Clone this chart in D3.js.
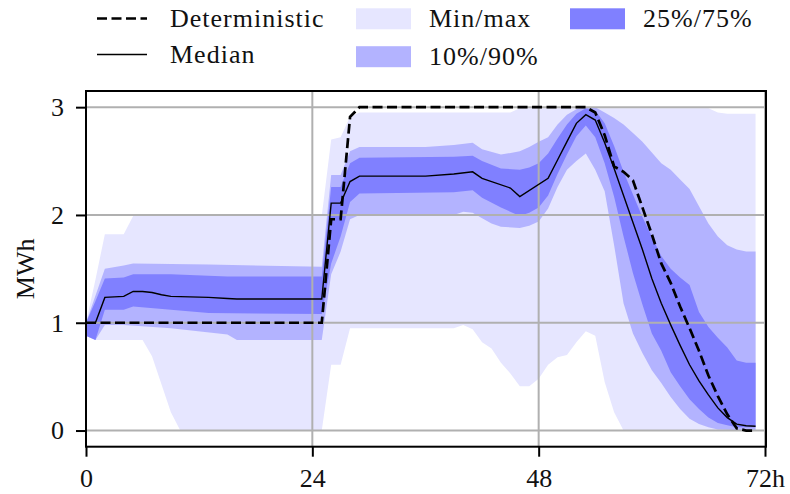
<!DOCTYPE html>
<html>
<head>
<meta charset="utf-8">
<script src="https://cdn.jsdelivr.net/npm/d3@7"></script>
<style>
  html, body { margin: 0; padding: 0; background: #fff; }
  svg text { font-family: "Liberation Serif", "DejaVu Serif", serif; fill: #111; }
</style>
</head>
<body>
<div id="chart"></div>
<script>
// ---- data (hour, MWh) ----
const xTicks = [0, 24, 48, 72];
const xTickLabels = ["0", "24", "48", "72h"];
const yTicks = [0, 1, 2, 3];

const deterministic = [
  [0, 1], [25, 1], [26, 1.96], [27, 1.96], [28, 2.91], [29, 3], [53, 3], [54, 2.95],
  [55, 2.74], [56, 2.45], [57, 2.40], [58, 2.32], [59, 2.07], [60, 1.82], [61, 1.55],
  [62, 1.37], [63, 1.15], [64, 0.95], [65, 0.74], [66, 0.51], [67, 0.32], [68, 0.15],
  [69, 0.02], [70, 0], [71, 0]
];

const median = [
  [0, 1], [1, 1], [2, 1.235], [4, 1.245], [5, 1.29], [6, 1.29], [7, 1.28], [8, 1.26],
  [9, 1.245], [13, 1.235], [15, 1.225], [16, 1.22], [25, 1.22], [26, 2.11], [27, 2.11],
  [28, 2.31], [29, 2.36], [36, 2.36], [39, 2.38], [41, 2.40], [42, 2.34], [45, 2.25],
  [46, 2.17], [49, 2.34], [50, 2.51], [51, 2.68], [52, 2.85], [53, 2.93], [54, 2.88],
  [55, 2.67], [56, 2.43], [57, 2.18], [58, 1.93], [59, 1.68], [60, 1.41], [61, 1.18],
  [62, 0.98], [63, 0.79], [64, 0.61], [65, 0.46], [66, 0.33], [67, 0.21], [68, 0.12],
  [69, 0.06], [70, 0.045], [71, 0.04]
];

const minMaxUpper = [
  [0, 1.0], [1, 1.40], [2, 1.82], [4, 1.82], [5, 1.99], [25, 1.99], [26, 2.70], [27, 2.72],
  [28, 2.91], [29, 2.95], [45, 2.95], [46, 2.99], [66, 2.99], [67, 2.95], [68, 2.94], [71, 2.94]
];
const minMaxLower = [
  [0, 0.88], [1, 0.84], [6, 0.84], [7, 0.69], [8, 0.43], [9, 0.17], [10, 0], [25, 0],
  [26, 0.61], [27, 0.61], [28, 0.95], [39, 0.95], [40, 0.98], [41, 0.94], [42, 0.82],
  [43, 0.76], [44, 0.63], [45, 0.53], [46, 0.41], [47, 0.41], [48, 0.48], [49, 0.61],
  [50, 0.68], [51, 0.70], [52, 0.82], [53, 0.92], [54, 0.88], [55, 0.45], [56, 0.17],
  [57, 0], [71, 0]
];

const p90 = [
  [0, 1.0], [1, 1.25], [2, 1.50], [4, 1.53], [5, 1.55], [13, 1.54], [25, 1.52], [26, 2.37],
  [27, 2.37], [28, 2.59], [29, 2.63], [36, 2.63], [39, 2.65], [41, 2.67], [42, 2.61],
  [44, 2.56], [46, 2.59], [47, 2.63], [48, 2.68], [49, 2.72], [50, 2.84], [51, 2.93],
  [52, 2.98], [53, 3.0], [54, 3.0], [55, 2.95], [56, 2.90], [57, 2.84], [58, 2.76],
  [59, 2.68], [60, 2.58], [61, 2.48], [62, 2.42], [63, 2.33], [64, 2.24], [65, 2.08],
  [66, 1.92], [67, 1.80], [68, 1.72], [69, 1.68], [70, 1.66], [71, 1.66]
];
const p10 = [
  [0, 0.88], [1, 0.84], [2, 0.98], [4, 0.98], [9, 0.95], [15, 0.89], [16, 0.84], [25, 0.84],
  [26, 1.45], [27, 1.66], [28, 1.96], [29, 2.0], [39, 2.0], [40, 2.03], [41, 2.02],
  [42, 1.97], [43, 1.92], [44, 1.89], [46, 1.88], [47, 1.90], [48, 1.94], [49, 2.06],
  [50, 2.26], [51, 2.42], [52, 2.50], [53, 2.57], [54, 2.42], [55, 2.22], [56, 1.72],
  [57, 1.18], [58, 0.90], [59, 0.72], [60, 0.56], [61, 0.44], [62, 0.31], [63, 0.20],
  [64, 0.11], [65, 0.06], [66, 0.03], [67, 0.01], [71, 0]
];

const p75 = [
  [0, 1.0], [1, 1.20], [2, 1.41], [4, 1.42], [5, 1.45], [9, 1.45], [15, 1.43], [25, 1.43],
  [26, 2.26], [27, 2.26], [28, 2.48], [29, 2.53], [39, 2.54], [41, 2.55], [42, 2.50],
  [44, 2.43], [46, 2.42], [47, 2.44], [48, 2.48], [49, 2.57], [50, 2.71], [51, 2.84],
  [52, 2.94], [53, 2.99], [54, 2.97], [55, 2.85], [56, 2.64], [57, 2.40], [58, 2.19],
  [59, 1.98], [60, 1.80], [61, 1.62], [62, 1.50], [63, 1.42], [64, 1.35], [65, 1.10],
  [66, 0.96], [67, 0.86], [68, 0.77], [69, 0.65], [70, 0.63], [71, 0.63]
];
const p25 = [
  [0, 0.88], [1, 0.84], [2, 1.12], [4, 1.12], [5, 1.15], [9, 1.12], [13, 1.09], [25, 1.08],
  [26, 1.55], [27, 1.80], [28, 2.12], [29, 2.20], [39, 2.21], [41, 2.23], [42, 2.16],
  [44, 2.07], [46, 1.99], [47, 2.02], [48, 2.07], [49, 2.18], [50, 2.38], [51, 2.56],
  [52, 2.73], [53, 2.83], [54, 2.72], [55, 2.48], [56, 2.17], [57, 1.80], [58, 1.46],
  [59, 1.17], [60, 0.90], [61, 0.74], [62, 0.54], [63, 0.41], [64, 0.29], [65, 0.20],
  [66, 0.12], [67, 0.07], [68, 0.05], [69, 0.03], [71, 0.03]
];

const bands = [
  { name: "Min/max", upper: minMaxUpper, lower: minMaxLower, color: "#e6e6ff" },
  { name: "10%/90%", upper: p90, lower: p10, color: "#b3b3ff" },
  { name: "25%/75%", upper: p75, lower: p25, color: "#8080ff" }
];

// ---- layout ----
const W = 790, H = 494;
const plot = { left: 86, right: 765, top: 91, bottom: 446.7 };
const fontSize = 26;

const svg = d3.select("#chart").append("svg")
  .attr("width", W)
  .attr("height", H);

const x = d3.scaleLinear().domain([0, 72]).range([plot.left, plot.right]);
const y = d3.scaleLinear().domain([-0.15, 3.15]).range([plot.bottom, plot.top]);

const line = d3.line().x(d => x(d[0])).y(d => y(d[1]));

// bands: upper edge forward, lower edge back
svg.append("g").selectAll("path")
  .data(bands)
  .enter()
  .append("path")
  .attr("d", b => line(b.upper.concat(b.lower.slice().reverse())) + "Z")
  .attr("fill", b => b.color)
  .attr("stroke", "none");

// grid
const grid = svg.append("g").attr("stroke", "#b0b0b0").attr("stroke-width", 2);
grid.selectAll(".vx").data(xTicks).enter().append("line")
  .attr("x1", d => x(d)).attr("x2", d => x(d))
  .attr("y1", plot.top).attr("y2", plot.bottom);
grid.selectAll(".hy").data(yTicks).enter().append("line")
  .attr("x1", plot.left).attr("x2", plot.right)
  .attr("y1", d => y(d)).attr("y2", d => y(d));

// lines
svg.append("path")
  .attr("d", line(deterministic))
  .attr("fill", "none")
  .attr("stroke", "#000")
  .attr("stroke-width", 2.7)
  .attr("stroke-dasharray", "10,4.5");

svg.append("path")
  .attr("d", line(median))
  .attr("fill", "none")
  .attr("stroke", "#000")
  .attr("stroke-width", 1.4);

// spines
svg.append("rect")
  .attr("x", plot.left).attr("y", plot.top)
  .attr("width", plot.right - plot.left + 1)
  .attr("height", plot.bottom - plot.top)
  .attr("fill", "none")
  .attr("stroke", "#000")
  .attr("stroke-width", 2);

// axes
const xAxis = svg.append("g")
  .attr("transform", `translate(0,${plot.bottom})`)
  .call(d3.axisBottom(x).tickValues(xTicks)
    .tickFormat((d, i) => xTickLabels[i])
    .tickSize(10).tickSizeOuter(0).tickPadding(12));
xAxis.select(".domain").remove();

const yAxis = svg.append("g")
  .attr("transform", `translate(${plot.left},0)`)
  .call(d3.axisLeft(y).tickValues(yTicks)
    .tickFormat(d3.format("d"))
    .tickSize(10).tickSizeOuter(0).tickPadding(12));
yAxis.select(".domain").remove();

[xAxis, yAxis].forEach(g => {
  g.selectAll(".tick line").attr("stroke", "#000").attr("stroke-width", 2);
  g.selectAll(".tick text")
    .style("font-family", '"Liberation Serif", serif')
    .style("font-size", fontSize + "px")
    .attr("fill", "#111");
});

svg.append("text")
  .attr("transform", `translate(25,${(plot.top + plot.bottom) / 2}) rotate(-90)`)
  .attr("text-anchor", "middle")
  .attr("dy", "0.35em")
  .style("font-size", fontSize + "px")
  .text("MWh");

// ---- legend ----
const legend = svg.append("g");
const lineItems = [
  { label: "Deterministic", dash: "10,4.5", width: 2.7, cy: 18.5 },
  { label: "Median", dash: null, width: 1.4, cy: 54.5 }
];
lineItems.forEach(it => {
  legend.append("line")
    .attr("x1", 97).attr("x2", 147)
    .attr("y1", it.cy).attr("y2", it.cy)
    .attr("stroke", "#000")
    .attr("stroke-width", it.width)
    .attr("stroke-dasharray", it.dash);
  legend.append("text")
    .attr("x", 170).attr("y", it.cy + 8.5)
    .style("font-size", fontSize + "px")
    .style("letter-spacing", "1px")
    .text(it.label);
});

const patchItems = [
  { band: bands[0], px: 356, tx: 429, cy: 18.8 },
  { band: bands[1], px: 356, tx: 429, cy: 56.7 },
  { band: bands[2], px: 570, tx: 643, cy: 18.8 }
];
patchItems.forEach(it => {
  legend.append("rect")
    .attr("x", it.px).attr("y", it.cy - 10.5)
    .attr("width", 55).attr("height", 21)
    .attr("fill", it.band.color);
  legend.append("text")
    .attr("x", it.tx).attr("y", it.cy + 8.5)
    .style("font-size", fontSize + "px")
    .style("letter-spacing", "1px")
    .text(it.band.name);
});
</script>
</body>
</html>
